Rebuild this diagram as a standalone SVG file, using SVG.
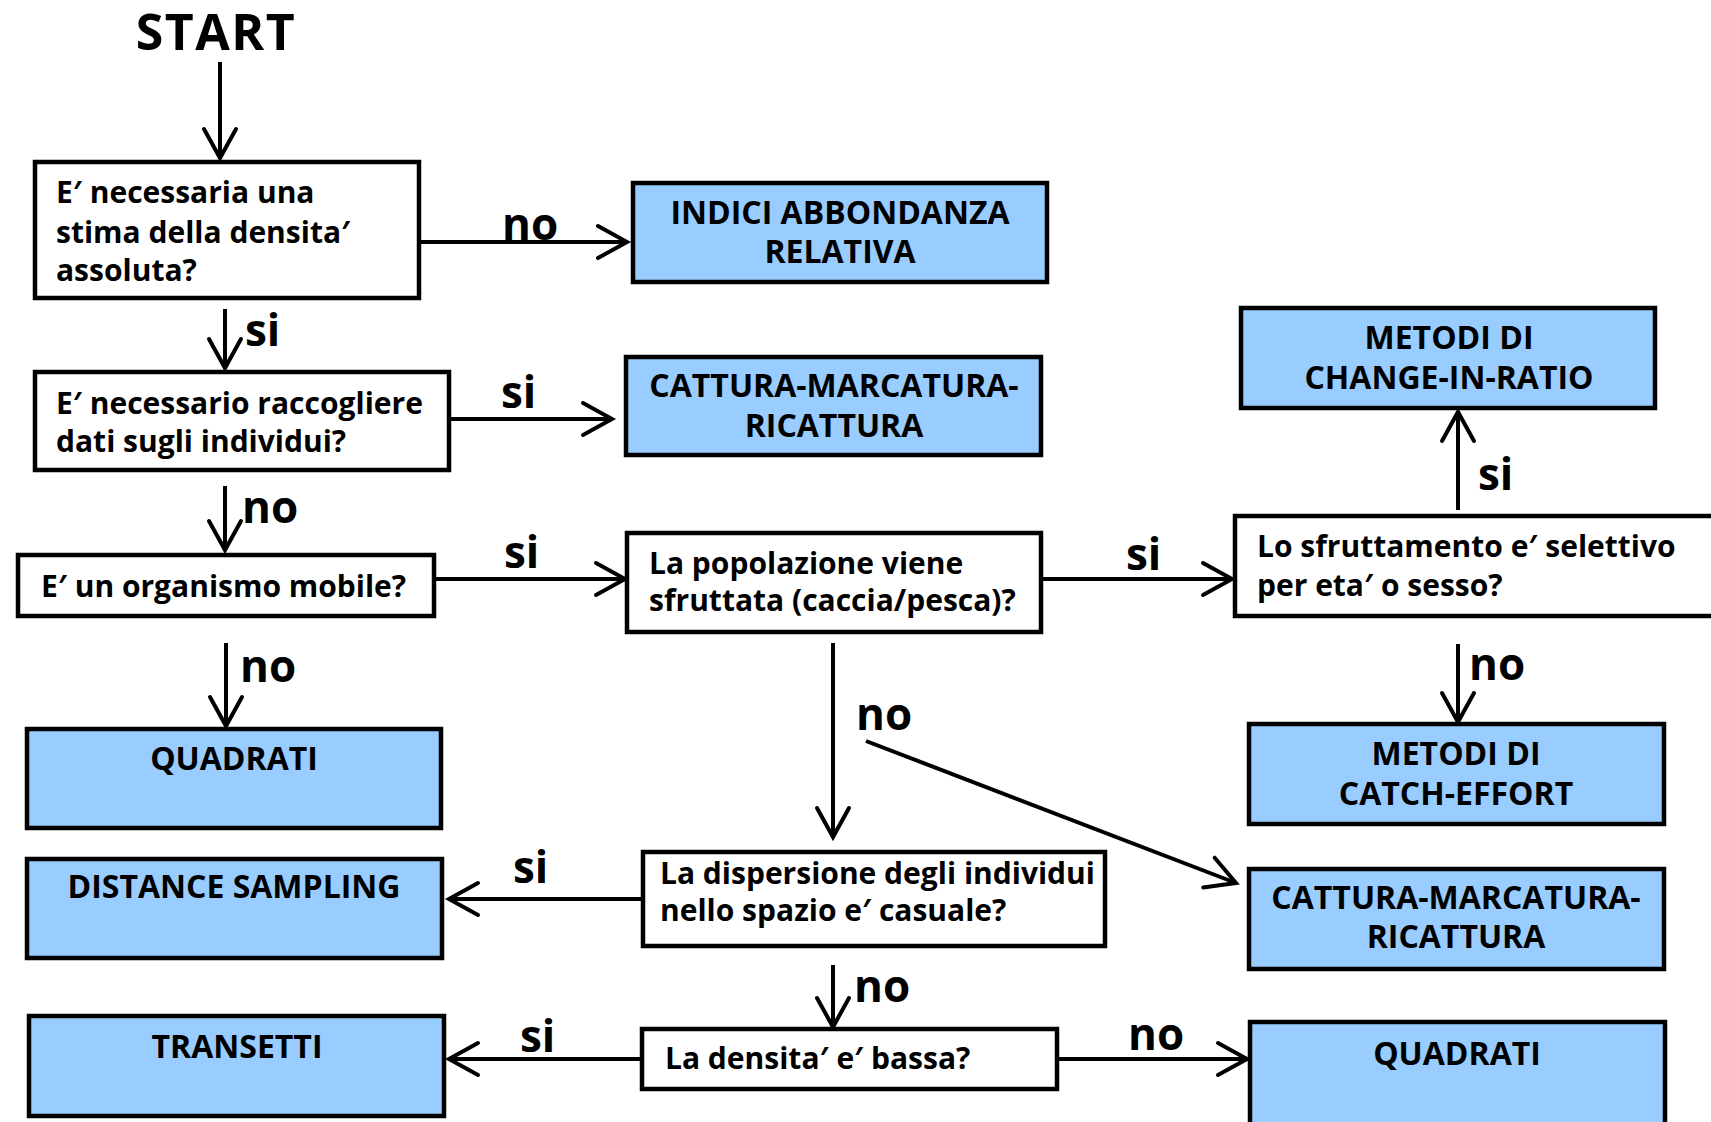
<svg xmlns="http://www.w3.org/2000/svg" width="1711" height="1122" viewBox="0 0 1711 1122">
<style>
.q{font-family:"Open Sans","Liberation Sans",sans-serif;font-weight:700;font-size:30px;fill:#000}
.c{font-family:"Open Sans","Liberation Sans",sans-serif;font-weight:700;font-size:32px;fill:#000;text-anchor:middle}
.e{font-family:"Open Sans","Liberation Sans",sans-serif;font-weight:700;font-size:44px;fill:#000}
.t{font-family:"Open Sans","Liberation Sans",sans-serif;font-weight:700;font-size:50px;letter-spacing:1.5px;fill:#000;text-anchor:middle}
.qb{fill:#fff;stroke:#000;stroke-width:4.5}
.rb{fill:#99CCFF;stroke:#000;stroke-width:4.5}
.ln{stroke:#000;stroke-width:4;fill:none;marker-end:url(#ah)}
</style>
<defs>
<marker id="ah" markerUnits="userSpaceOnUse" viewBox="-36 -20 40 40" markerWidth="40" markerHeight="40" refX="0" refY="0" orient="auto" overflow="visible">
<path d="M-29,-16 L0,0 L-29,16" fill="none" stroke="#000" stroke-width="4" stroke-linecap="round" stroke-linejoin="miter"/>
</marker>
</defs>
<rect width="1711" height="1122" fill="#fff"/>
<text class="t" x="216" y="50">START</text>

<g id="connectors">
<line class="ln" x1="220" y1="62" x2="220" y2="158"/>
<line class="ln" x1="421" y1="242" x2="627" y2="242"/>
<line class="ln" x1="225" y1="309" x2="225" y2="368"/>
<line class="ln" x1="451" y1="419" x2="612" y2="419"/>
<line class="ln" x1="225" y1="486" x2="225" y2="550"/>
<line class="ln" x1="436" y1="579" x2="625" y2="579"/>
<line class="ln" x1="226" y1="643" x2="226" y2="726"/>
<line class="ln" x1="1043" y1="579" x2="1232" y2="579"/>
<line class="ln" x1="833" y1="643" x2="833" y2="837"/>
<line class="ln" x1="866" y1="741" x2="1236" y2="883"/>
<line class="ln" x1="1458" y1="510" x2="1458" y2="412"/>
<line class="ln" x1="1458" y1="644" x2="1458" y2="722"/>
<line class="ln" x1="641" y1="899" x2="449" y2="899"/>
<line class="ln" x1="833" y1="965" x2="833" y2="1027"/>
<line class="ln" x1="640" y1="1059" x2="449" y2="1059"/>
<line class="ln" x1="1059" y1="1059" x2="1247" y2="1059"/>
<text class="e" x="502" y="240">no</text>
<text class="e" x="245" y="346">si</text>
<text class="e" x="501" y="408">si</text>
<text class="e" x="242" y="523">no</text>
<text class="e" x="504" y="568">si</text>
<text class="e" x="240" y="682">no</text>
<text class="e" x="1126" y="570">si</text>
<text class="e" x="856" y="730">no</text>
<text class="e" x="1478" y="490">si</text>
<text class="e" x="1469" y="680">no</text>
<text class="e" x="513" y="883">si</text>
<text class="e" x="854" y="1002">no</text>
<text class="e" x="520" y="1052">si</text>
<text class="e" x="1128" y="1050">no</text>
</g>

<g id="q1">
<rect class="qb" x="35" y="162" width="384" height="136"/>
<text class="q" x="56" y="203">E′ necessaria una</text>
<text class="q" x="56" y="243">stima della densita′</text>
<text class="q" x="56" y="281">assoluta?</text>
</g>
<g id="indici">
<rect class="rb" x="633" y="183" width="414" height="99"/>
<text class="c" x="840" y="224">INDICI ABBONDANZA</text>
<text class="c" x="840" y="263">RELATIVA</text>
</g>
<g id="q2">
<rect class="qb" x="35" y="372" width="414" height="98"/>
<text class="q" x="56" y="414">E′ necessario raccogliere</text>
<text class="q" x="56" y="452">dati sugli individui?</text>
</g>
<g id="cmr1">
<rect class="rb" x="626" y="357" width="415" height="98"/>
<text class="c" x="834" y="397">CATTURA-MARCATURA-</text>
<text class="c" x="834" y="437">RICATTURA</text>
</g>
<g id="q3">
<rect class="qb" x="18" y="555" width="416" height="61"/>
<text class="q" x="41" y="597">E′ un organismo mobile?</text>
</g>
<g id="q4">
<rect class="qb" x="627" y="533" width="414" height="99"/>
<text class="q" x="649" y="574">La popolazione viene</text>
<text class="q" x="649" y="611">sfruttata (caccia/pesca)?</text>
</g>
<g id="q5">
<rect class="qb" x="1235" y="516" width="500" height="100"/>
<text class="q" x="1257" y="557">Lo sfruttamento e′ selettivo</text>
<text class="q" x="1257" y="596">per eta′ o sesso?</text>
</g>
<g id="cir">
<rect class="rb" x="1241" y="308" width="414" height="100"/>
<text class="c" x="1449" y="349">METODI DI</text>
<text class="c" x="1449" y="389">CHANGE-IN-RATIO</text>
</g>
<g id="quadrati1">
<rect class="rb" x="27" y="729" width="414" height="99"/>
<text class="c" x="234" y="770">QUADRATI</text>
</g>
<g id="catch">
<rect class="rb" x="1249" y="724" width="415" height="100"/>
<text class="c" x="1456" y="765">METODI DI</text>
<text class="c" x="1456" y="805">CATCH-EFFORT</text>
</g>
<g id="distance">
<rect class="rb" x="27" y="859" width="415" height="99"/>
<text class="c" x="234" y="898">DISTANCE SAMPLING</text>
</g>
<g id="q6">
<rect class="qb" x="643" y="852" width="462" height="94"/>
<text class="q" x="660" y="884">La dispersione degli individui</text>
<text class="q" x="660" y="921">nello spazio e′ casuale?</text>
</g>
<g id="cmr2">
<rect class="rb" x="1249" y="869" width="415" height="100"/>
<text class="c" x="1456" y="909">CATTURA-MARCATURA-</text>
<text class="c" x="1456" y="948">RICATTURA</text>
</g>
<g id="transetti">
<rect class="rb" x="29" y="1016" width="415" height="100"/>
<text class="c" x="237" y="1058">TRANSETTI</text>
</g>
<g id="q7">
<rect class="qb" x="642" y="1029" width="415" height="60"/>
<text class="q" x="665" y="1069">La densita′ e′ bassa?</text>
</g>
<g id="quadrati2">
<rect class="rb" x="1250" y="1022" width="415" height="104"/>
<text class="c" x="1457" y="1065">QUADRATI</text>
</g>
</svg>
